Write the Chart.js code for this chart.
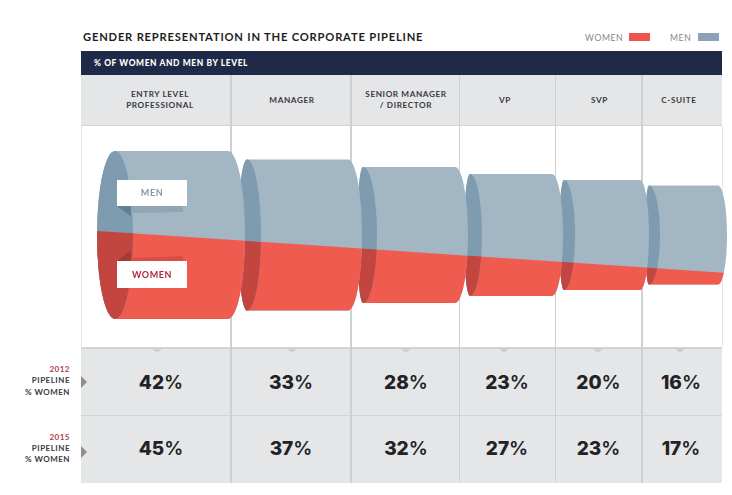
<!DOCTYPE html>
<html>
<head>
<meta charset="utf-8">
<script src="https://cdn.jsdelivr.net/npm/chart.js@4/dist/chart.umd.min.js"></script>
<style>
  html, body { margin:0; padding:0; background:#fff; }
  body { width:732px; height:495px; position:relative; overflow:hidden; font-family:Lato, sans-serif; color:#2a2a2c; }
  #chart { position:absolute; left:0; top:0; pointer-events:none; }
  .abs { position:absolute; white-space:nowrap; }
  #title { left:83px; top:29.5px; font-size:11.2px; font-weight:700; letter-spacing:.8px; color:#1d1d20; }
  .leg { top:33px; font-size:8.6px; letter-spacing:.6px; color:#85868a; }
  .sw { top:33px; width:21px; height:8px; }
  #bar { left:81px; top:51px; width:641px; height:24px; background:#1f2a48; color:#fff; font-size:8.4px; font-weight:900; letter-spacing:.62px; line-height:25px; text-indent:13px; }
  .band { left:81px; width:641px; background:#e5e6e8; }
  .head { top:75px; height:50px; display:flex; align-items:center; justify-content:center; text-align:center; font-size:8.2px; font-weight:700; letter-spacing:.6px; line-height:11px; color:#3a3a3e; }
  .sep { background:#cfd0d2; }
  .pct { font-family:Inter, Lato, sans-serif; font-size:19px; font-weight:800; color:#222226; text-align:center; }
  .pct span { font-weight:600; }
  .side { left:20px; width:50px; text-align:right; font-size:8px; line-height:11.4px; letter-spacing:.5px; font-weight:700; color:#3a3a3e; }
  .side b { color:#b23a4c; font-weight:700; }
  .tri-down { width:0; height:0; border-left:6px solid transparent; border-right:6px solid transparent; border-top:5px solid #cfd0d2; }
  .tri-right { width:0; height:0; border-top:6px solid transparent; border-bottom:6px solid transparent; border-left:6px solid #8e8e90; }
</style>
</head>
<body>
<div id="title" class="abs">GENDER REPRESENTATION IN THE CORPORATE PIPELINE</div>
<div class="abs leg" style="left:585px">WOMEN</div>
<div class="abs sw" style="left:629px;background:#ee5350"></div>
<div class="abs leg" style="left:670px">MEN</div>
<div class="abs sw" style="left:698px;background:#8aa3b8"></div>
<div id="bar" class="abs">% OF WOMEN AND MEN BY LEVEL</div>
<div id="table"></div>
<canvas id="chart" width="732" height="495"></canvas>

<script>
// ---- data ----
const levels = [['ENTRY LEVEL', 'PROFESSIONAL'], ['MANAGER'], ['SENIOR MANAGER', '/ DIRECTOR'], ['VP'], ['SVP'], ['C-SUITE']];
const pipeline2012 = [42, 33, 28, 23, 20, 16];
const pipeline2015 = [45, 37, 32, 27, 23, 17];
const columnWidths = [150, 120, 108, 96, 87, 80];
// cylinder height, entry level = 100
const cylinderSize = [100, 90, 81, 72.6, 65.5, 59];
// cylinder extents along the x scale, and the depth of the round ends
const cylinderStart = [34, 166, 282, 389, 483, 568];
const cylinderEnd = [147, 267, 374, 471, 559, 637];
const capBack = [18, 9, 6, 6, 5, 4];
const capFront = [18, 14, 14, 12, 11, 11];
const endDepth = [17, 14, 13, 11, 9, 9];
// men / women boundary, straight line across the funnel
const splitX = [16, 646];
const splitY = [2.4, -22.6];

const MEN = '#a3b6c4', MEN_CAP = '#7f9bb0', WOMEN = '#f05b50', WOMEN_CAP = '#c2463f';

// ---- html table around the chart ----
const columnEdges = columnWidths.reduce((a, w) => a.concat(a[a.length - 1] + w), [0]);
const LEFT = 81;
const dividerWidth = [0, 2, 2, 1, 1, 2, 0];

function buildTable() {
  const labelShift = [4, 1, 1, -2, 1, -3];
  const pctShift = [5, 0, 1, 0, 0, -1];
  const triShift = [1, 1, 1, -3, -1, -2];
  let html = `
    <div class="abs band" style="top:75px;height:50px;border-bottom:1px solid #d3d4d6"></div>
    <div class="abs band" style="top:347px;height:136px"></div>
    <div class="abs" style="left:81px;width:641px;top:347px;height:2px;background:#d3d4d6"></div>
    <div class="abs" style="left:81px;width:641px;top:415px;height:1px;background:#d3d4d6"></div>`;
  levels.forEach((lines, i) => {
    const x0 = LEFT + columnEdges[i], w = columnWidths[i], mid = x0 + w / 2;
    html += `<div class="abs head" style="left:${x0 + labelShift[i]}px;width:${w}px">${lines.join('<br>')}</div>`;
    html += `<div class="abs tri-down" style="left:${mid + triShift[i] - 6}px;top:348px"></div>`;
    [[pipeline2012, 371], [pipeline2015, 437]].forEach(([vals, top]) => {
      html += `<div class="abs pct" style="left:${x0 + pctShift[i]}px;width:${w}px;top:${top}px">${vals[i]}<span>%</span></div>`;
    });
    if (i > 0) {
      const dw = dividerWidth[i];
      html += `<div class="abs sep" style="left:${x0 - dw / 2}px;width:${dw}px;top:75px;height:51px"></div>`;
      html += `<div class="abs sep" style="left:${x0 - dw / 2}px;width:${dw}px;top:347px;height:136px"></div>`;
    }
  });
  [['2012', 364, 376], ['2015', 431.5, 446]].forEach(([year, top, triTop]) => {
    html += `<div class="abs side" style="top:${top}px"><b>${year}</b><br>PIPELINE<br>% WOMEN</div>`;
    html += `<div class="abs tri-right" style="left:81px;top:${triTop}px"></div>`;
  });
  document.getElementById('table').innerHTML = html;
}
buildTable();

// ---- cylinders, drawn through the chart scales ----
const cylinders = {
  id: 'cylinders',
  afterDatasetsDraw(chart) {
    const { ctx, scales: { x, y } } = chart;
    const px = v => x.getPixelForValue(v);
    const py = v => y.getPixelForValue(v);
    const unit = px(1) - px(0);
    const sx0 = px(splitX[0]), sx1 = px(splitX[1]), sy0 = py(splitY[0]), sy1 = py(splitY[1]);
    const splitAt = v => sy0 + (sy1 - sy0) * (v - sx0) / (sx1 - sx0);

    function paintSplit(path, upper, lower) {
      ctx.save();
      ctx.clip(path);
      ctx.fillStyle = upper;
      ctx.fillRect(0, 0, chart.width, chart.height);
      ctx.fillStyle = lower;
      ctx.beginPath();
      ctx.moveTo(0, splitAt(0));
      ctx.lineTo(chart.width, splitAt(chart.width));
      ctx.lineTo(chart.width, chart.height);
      ctx.lineTo(0, chart.height);
      ctx.closePath();
      ctx.fill();
      ctx.restore();
    }

    // back to front: each round end sits on top of the next cylinder's cap
    for (let i = levels.length - 1; i >= 0; i--) {
      const top = py(cylinderSize[i] / 2), bottom = py(-cylinderSize[i] / 2);
      const mid = (top + bottom) / 2, ry = (bottom - top) / 2;
      const x0 = px(cylinderStart[i]), x1 = px(cylinderEnd[i]);
      const backR = capBack[i] * unit, frontR = capFront[i] * unit, endR = endDepth[i] * unit;

      const body = new Path2D();
      body.moveTo(x0, top);
      body.lineTo(x1, top);
      body.ellipse(x1, mid, endR, ry, 0, -Math.PI / 2, Math.PI / 2);
      body.lineTo(x0, bottom);
      body.ellipse(x0, mid, backR, ry, 0, Math.PI / 2, Math.PI * 1.5);
      body.closePath();
      paintSplit(body, MEN, WOMEN);

      const cap = new Path2D();
      cap.ellipse(x0, mid, frontR, ry, 0, -Math.PI / 2, Math.PI / 2);
      cap.ellipse(x0, mid, backR, ry, 0, Math.PI / 2, Math.PI * 1.5);
      cap.closePath();
      paintSplit(cap, MEN_CAP, WOMEN_CAP);
    }

    // MEN / WOMEN tags with their folded tails
    const L = 117, R = 187;
    const poly = (color, pts) => {
      ctx.fillStyle = color;
      ctx.beginPath();
      pts.forEach((p, i) => i ? ctx.lineTo(p[0], p[1]) : ctx.moveTo(p[0], p[1]));
      ctx.closePath();
      ctx.fill();
    };
    poly('#90a6b6', [[131, 206], [183, 206], [183, 212], [131, 213]]);
    poly('#5f8194', [[L, 206], [131, 206], [131, 216.5]]);
    poly('#d94d45', [[131, 261], [183, 261], [183, 256], [131, 258]]);
    poly('#a63a36', [[L, 261], [131, 261], [131, 250.5]]);
    ctx.fillStyle = '#fff';
    ctx.fillRect(L, 180, R - L, 26);
    ctx.fillRect(L, 261, R - L, 27);
    ctx.textAlign = 'center';
    ctx.textBaseline = 'middle';
    ctx.font = '700 9px Lato, sans-serif';
    ctx.letterSpacing = '0.6px';
    ctx.fillStyle = '#8496a6';
    ctx.fillText('MEN', 152, 193.5);
    ctx.fillStyle = '#b02a3a';
    ctx.fillText('WOMEN', 152, 275);
  }
};

new Chart(document.getElementById('chart').getContext('2d'), {
  type: 'scatter',
  data: {
    datasets: [
      { label: 'Men', data: levels.map((_, i) => ({ x: cylinderStart[i], y: cylinderSize[i] / 2 })), backgroundColor: MEN, pointRadius: 0 },
      { label: 'Women', data: levels.map((_, i) => ({ x: cylinderStart[i], y: -cylinderSize[i] / 2 })), backgroundColor: WOMEN, pointRadius: 0 }
    ]
  },
  options: {
    responsive: false,
    animation: false,
    layout: { padding: { left: 81, right: 10, top: 126, bottom: 148 } },
    plugins: { legend: { display: false }, tooltip: { enabled: false } },
    scales: {
      x: {
        type: 'linear', min: 0, max: 641,
        afterBuildTicks: axis => { axis.ticks = columnEdges.map(value => ({ value })); },
        ticks: { display: false },
        border: { display: false },
        grid: {
          color: c => (c.index === 0 || c.index === columnWidths.length) ? '#e4e5e7' : '#cfd0d2',
          lineWidth: c => dividerWidth[c.index] || 1,
          drawTicks: false
        }
      },
      y: { type: 'linear', min: -66.7, max: 64.9, display: false }
    }
  },
  plugins: [cylinders]
});
</script>
</body>
</html>
